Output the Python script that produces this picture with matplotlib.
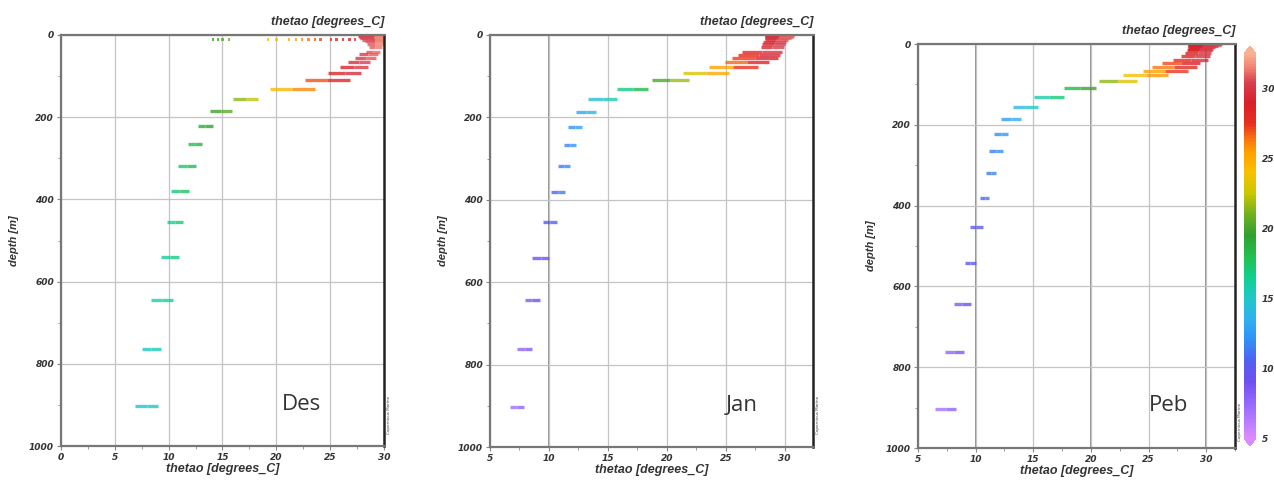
import matplotlib
matplotlib.use("Agg")
import matplotlib.pyplot as plt
from matplotlib.colors import LinearSegmentedColormap, Normalize
from matplotlib.collections import LineCollection
from matplotlib.cm import ScalarMappable
from matplotlib.ticker import MultipleLocator

# model depth levels (m)
depth = [0.49, 2.65, 5.08, 7.93, 11.4, 15.81, 21.6, 29.44, 40.34, 47.37, 55.76,
         65.81, 77.85, 92.33, 109.73, 130.67, 155.85, 186.13, 222.48, 266.04,
         318.13, 380.21, 453.94, 541.09, 643.57, 763.33, 902.34]

# temperature range at each level (degrees_C)
des_tmin = [27.6, 27.6, 27.7, 27.8, 28.0, 28.2, 28.4, 28.6, 28.3, 27.7, 27.3,
            26.7, 25.9, 24.8, 22.7, 19.4, 16.0, 13.8, 12.7, 11.8,
            10.9, 10.2, 9.8, 9.3, 8.4, 7.5, 6.9]
des_tmax = [30.6, 30.6, 30.5, 30.4, 30.3, 30.1, 30.0, 29.8, 29.6, 29.4, 29.3,
            28.7, 28.5, 27.9, 26.8, 23.6, 18.3, 15.9, 14.1, 13.1,
            12.5, 11.9, 11.3, 11.0, 10.4, 9.3, 9.0]
# scattered near-surface points in Des (at 11.4 m)
des_dots = [0.0, 14.1, 14.6, 15.0, 15.6, 19.2, 20.0, 21.2, 21.8, 22.4, 23.0,
            23.6, 24.1, 25.1, 25.6, 26.2, 26.8, 27.3]

jan_tmin = [28.3, 28.3, 28.3, 28.3, 28.3, 28.2, 28.1, 28.0, 26.4, 26.0, 25.5,
            24.9, 23.6, 21.4, 18.7, 15.8, 13.3, 12.3, 11.6, 11.3,
            10.8, 10.2, 9.5, 8.6, 8.0, 7.3, 6.7]
jan_tmax = [30.8, 30.8, 30.7, 30.5, 30.3, 30.1, 30.0, 29.9, 29.8, 29.6, 29.4,
            28.7, 27.7, 25.3, 21.9, 18.4, 15.8, 14.0, 12.8, 12.3,
            11.8, 11.4, 10.7, 10.0, 9.2, 8.6, 7.9]

peb_tmin = [28.4, 28.4, 28.4, 28.4, 28.4, 28.3, 28.2, 27.8, 27.1, 26.2, 25.3,
            24.5, 22.8, 20.7, 17.7, 15.1, 13.2, 12.2, 11.6, 11.2,
            10.9, 10.4, 9.5, 9.1, 8.1, 7.3, 6.5]
peb_tmax = [31.4, 31.3, 31.0, 30.8, 30.6, 30.5, 30.4, 30.3, 30.2, 29.5, 29.2,
            28.4, 26.7, 24.0, 20.4, 17.7, 15.4, 13.9, 12.8, 12.4,
            11.8, 11.2, 10.6, 10.0, 9.6, 9.0, 8.3]

months = ["Des", "Jan", "Peb"]
var_label = "thetao [degrees_C]"
depth_label = "depth [m]"
cbar_ticks = [5, 10, 15, 20, 25, 30]

# colour scale anchors (value, colour)
cmap_vals = [5.0, 7.0, 9.0, 10.5, 12.0, 13.5, 15.0, 16.5, 18.0, 19.5, 21.0,
             22.5, 24.0, 25.5, 26.5, 27.5, 29.0, 30.5, 31.5, 32.5]
cmap_cols = ["#d98cff", "#a070ff", "#7050f0", "#5060f0", "#3090f8", "#30b0f0",
             "#20c8c8", "#10d090", "#20c050", "#30a030", "#70b020", "#c8c800",
             "#f8c000", "#ffa000", "#f87010", "#e83020", "#d82028", "#d84050",
             "#f08070", "#f8b090"]
lo, hi = cmap_vals[0], cmap_vals[-1]
cmap = LinearSegmentedColormap.from_list(
    "thetao", [((v - lo) / (hi - lo), c) for v, c in zip(cmap_vals, cmap_cols)])

W, H = 1274, 483
fig = plt.figure(figsize=(W / 100, H / 100), dpi=100)

lab_font = dict(family="Liberation Sans", fontstyle="italic", fontweight="bold",
                color="#333333")


def px_rect(x0, y0, x1, y1):
    return [x0 / W, 1 - y1 / H, (x1 - x0) / W, (y1 - y0) / H]


def panel(rect, tmin, tmax, xlim, norm, month, mxy, dark_grid=()):
    ax = fig.add_axes(rect)
    ax.set_xlim(*xlim)
    ax.set_ylim(1000, 0)
    ax.xaxis.set_major_locator(MultipleLocator(5))
    ax.xaxis.set_minor_locator(MultipleLocator(2.5))
    ax.yaxis.set_major_locator(MultipleLocator(200))
    ax.yaxis.set_minor_locator(MultipleLocator(100))
    ax.grid(True, which="major", color="#c4c4c4", lw=0.9, zorder=0)
    for g in dark_grid:
        ax.axvline(g, color="#8a8a8a", lw=1.3, zorder=0)

    segs, cols = [], []
    for d, a, b in zip(depth, tmin, tmax):
        m = (a + b) / 2
        segs += [[(a, d), (m, d)], [(m, d), (b, d)]]
        cols += [cmap(norm((a + m) / 2)), cmap(norm((m + b) / 2))]
    lc = LineCollection(segs, colors=cols, linewidths=2.4, capstyle="butt",
                        alpha=0.8, zorder=2)
    ax.add_collection(lc)

    for s in ax.spines.values():
        s.set_color("#777777")
        s.set_linewidth(1.6)
    ax.spines["right"].set_color("#222222")
    ax.spines["right"].set_linewidth(1.8)
    ax.tick_params(which="both", direction="out", color="#888888", pad=2,
                   labelsize=6.5, labelcolor="#333333")
    ax.tick_params(which="major", length=3)
    ax.tick_params(which="minor", length=2)
    for t in ax.get_xticklabels() + ax.get_yticklabels():
        t.set_fontstyle("italic")
        t.set_fontweight("bold")

    ax.set_title(var_label, loc="right", fontsize=9, pad=7, **lab_font)
    ax.set_xlabel(var_label, fontsize=9, labelpad=1, **lab_font)
    ax.set_ylabel(depth_label, fontsize=8, labelpad=7, **lab_font)
    ax.text(mxy[0], mxy[1], month, transform=ax.transAxes, ha="center",
            va="center", fontsize=16, family="Open Sans", color="#333333")
    return ax


des_norm = Normalize(-5, 31)
jan_norm = Normalize(5, 31.5)
peb_norm = Normalize(5, 32.5)

ax1 = panel(px_rect(61, 35, 384, 446), des_tmin, des_tmax, (0, 30), des_norm,
            months[0], (0.746, 0.1))
ax1.scatter(des_dots, [11.4] * len(des_dots), c=des_dots, cmap=cmap,
            norm=des_norm, marker="s", s=3, linewidths=0, alpha=0.8, zorder=3)

ax2 = panel(px_rect(490, 35, 813, 447), jan_tmin, jan_tmax, (5, 32.4), jan_norm,
            months[1], (0.78, 0.1), dark_grid=(10,))

ax3 = panel(px_rect(918, 44, 1235, 448), peb_tmin, peb_tmax, (5, 32.5), peb_norm,
            months[2], (0.789, 0.106), dark_grid=(10, 20, 30))

# colour bar for the last panel
cax = fig.add_axes(px_rect(1244, 46, 1256, 446))
cb = fig.colorbar(ScalarMappable(norm=peb_norm, cmap=cmap), cax=cax,
                  extend="both", extendfrac=0.02)
cb.outline.set_visible(False)
cb.set_ticks(cbar_ticks)
cax.tick_params(length=0, pad=4, labelsize=6.5, labelcolor="#333333")
for t in cax.get_yticklabels():
    t.set_fontstyle("italic")
    t.set_fontweight("bold")

# tiny credit lines
for x, y in [(389, 415), (818, 415), (1240, 422)]:
    fig.text(x / W, 1 - y / H, "Copernicus Marine", rotation=90, fontsize=3,
             ha="center", va="center", color="#444444")

fig.savefig("out.png", dpi=100)
